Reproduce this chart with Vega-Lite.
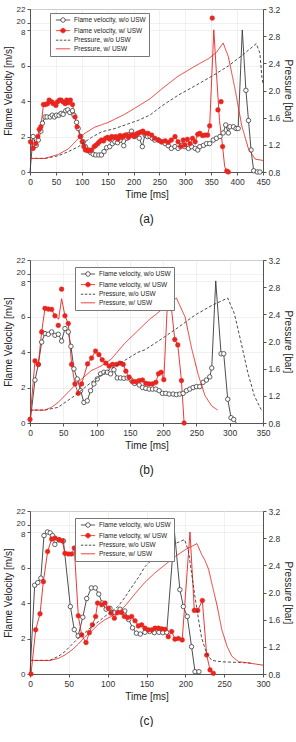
{
"$schema":"https://vega.github.io/schema/vega-lite/v6.json",
"background":"white",
"padding":{"left":2,"right":2,"top":4,"bottom":0},
"data":{"values":[
{"p":"a","s":"vo","t":0,"y":0,"k":"f"},{"p":"a","s":"vo","t":6,"y":2.0},{"p":"a","s":"vo","t":12,"y":1.5},{"p":"a","s":"vo","t":16,"y":1.8},{"p":"a","s":"vo","t":21,"y":2.3},{"p":"a","s":"vo","t":24,"y":2.75},{"p":"a","s":"vo","t":29,"y":3.1},{"p":"a","s":"vo","t":33,"y":3.1},{"p":"a","s":"vo","t":39,"y":3.1},{"p":"a","s":"vo","t":43,"y":3.2},{"p":"a","s":"vo","t":47,"y":3.1},{"p":"a","s":"vo","t":51,"y":3.2},{"p":"a","s":"vo","t":56,"y":3.2},{"p":"a","s":"vo","t":60,"y":3.3},{"p":"a","s":"vo","t":64,"y":3.25},{"p":"a","s":"vo","t":69,"y":3.45},{"p":"a","s":"vo","t":73,"y":3.5},{"p":"a","s":"vo","t":77,"y":3.35},{"p":"a","s":"vo","t":82,"y":3.45},{"p":"a","s":"vo","t":85,"y":3.2},{"p":"a","s":"vo","t":90,"y":2.8},{"p":"a","s":"vo","t":93,"y":2.45},{"p":"a","s":"vo","t":98,"y":2.0},{"p":"a","s":"vo","t":103,"y":1.7},{"p":"a","s":"vo","t":107,"y":1.43},{"p":"a","s":"vo","t":113,"y":1.24},{"p":"a","s":"vo","t":117,"y":1.1},{"p":"a","s":"vo","t":122,"y":1.0},{"p":"a","s":"vo","t":127,"y":0.96},{"p":"a","s":"vo","t":133,"y":0.96},{"p":"a","s":"vo","t":138,"y":0.96},{"p":"a","s":"vo","t":143,"y":1.15},{"p":"a","s":"vo","t":148,"y":1.37},{"p":"a","s":"vo","t":154,"y":1.43},{"p":"a","s":"vo","t":159,"y":1.6},{"p":"a","s":"vo","t":164,"y":1.7},{"p":"a","s":"vo","t":169,"y":1.65},{"p":"a","s":"vo","t":174,"y":1.8},{"p":"a","s":"vo","t":181,"y":1.48},{"p":"a","s":"vo","t":187,"y":1.9},{"p":"a","s":"vo","t":191,"y":2.1},{"p":"a","s":"vo","t":196,"y":2.3},{"p":"a","s":"vo","t":201,"y":2.0},{"p":"a","s":"vo","t":206,"y":2.1},{"p":"a","s":"vo","t":211,"y":1.9},{"p":"a","s":"vo","t":217,"y":1.43},{"p":"a","s":"vo","t":222,"y":2.1},{"p":"a","s":"vo","t":227,"y":2.0},{"p":"a","s":"vo","t":232,"y":2.0},{"p":"a","s":"vo","t":236,"y":1.9},{"p":"a","s":"vo","t":241,"y":1.8},{"p":"a","s":"vo","t":248,"y":1.8},{"p":"a","s":"vo","t":254,"y":1.7},{"p":"a","s":"vo","t":261,"y":1.6},{"p":"a","s":"vo","t":267,"y":1.48},{"p":"a","s":"vo","t":273,"y":1.33},{"p":"a","s":"vo","t":280,"y":1.43},{"p":"a","s":"vo","t":286,"y":1.33},{"p":"a","s":"vo","t":293,"y":1.5},{"p":"a","s":"vo","t":299,"y":1.43},{"p":"a","s":"vo","t":306,"y":1.33},{"p":"a","s":"vo","t":312,"y":1.43},{"p":"a","s":"vo","t":319,"y":1.33},{"p":"a","s":"vo","t":324,"y":1.24},{"p":"a","s":"vo","t":328,"y":1.43},{"p":"a","s":"vo","t":335,"y":1.5},{"p":"a","s":"vo","t":341,"y":1.6},{"p":"a","s":"vo","t":347,"y":1.6},{"p":"a","s":"vo","t":354,"y":1.8},{"p":"a","s":"vo","t":360,"y":1.9},{"p":"a","s":"vo","t":367,"y":2.0},{"p":"a","s":"vo","t":373,"y":2.2},{"p":"a","s":"vo","t":378,"y":2.65},{"p":"a","s":"vo","t":383,"y":2.2},{"p":"a","s":"vo","t":386,"y":2.55},{"p":"a","s":"vo","t":393,"y":2.55},{"p":"a","s":"vo","t":398,"y":2.45},{"p":"a","s":"vo","t":402,"y":2.45},{"p":"a","s":"vo","t":410,"y":8.1,"k":"f"},{"p":"a","s":"vo","t":417,"y":4.6},{"p":"a","s":"vo","t":422,"y":2.9},{"p":"a","s":"vo","t":427,"y":1.24},{"p":"a","s":"vo","t":432,"y":0.07},{"p":"a","s":"vo","t":439,"y":0},{"p":"a","s":"vo","t":444,"y":0},
{"p":"a","s":"vw","t":1,"y":1.7},{"p":"a","s":"vw","t":6,"y":1.33},{"p":"a","s":"vw","t":11,"y":1.6},{"p":"a","s":"vw","t":15,"y":2.0},{"p":"a","s":"vw","t":18,"y":2.4},{"p":"a","s":"vw","t":21,"y":2.55},{"p":"a","s":"vw","t":26,"y":3.8},{"p":"a","s":"vw","t":30,"y":3.8},{"p":"a","s":"vw","t":34,"y":3.85},{"p":"a","s":"vw","t":37,"y":4.05},{"p":"a","s":"vw","t":42,"y":3.95},{"p":"a","s":"vw","t":45,"y":3.85},{"p":"a","s":"vw","t":50,"y":3.75},{"p":"a","s":"vw","t":53,"y":3.95},{"p":"a","s":"vw","t":57,"y":4.05},{"p":"a","s":"vw","t":60,"y":4.05},{"p":"a","s":"vw","t":64,"y":3.95},{"p":"a","s":"vw","t":68,"y":3.85},{"p":"a","s":"vw","t":71,"y":4.05},{"p":"a","s":"vw","t":74,"y":3.9},{"p":"a","s":"vw","t":78,"y":4.05},{"p":"a","s":"vw","t":82,"y":3.8},{"p":"a","s":"vw","t":87,"y":3.1},{"p":"a","s":"vw","t":91,"y":2.55},{"p":"a","s":"vw","t":97,"y":2.0},{"p":"a","s":"vw","t":101,"y":1.7},{"p":"a","s":"vw","t":104,"y":1.43},{"p":"a","s":"vw","t":107,"y":1.24},{"p":"a","s":"vw","t":111,"y":1.2},{"p":"a","s":"vw","t":116,"y":1.2},{"p":"a","s":"vw","t":119,"y":1.24},{"p":"a","s":"vw","t":124,"y":1.43},{"p":"a","s":"vw","t":127,"y":1.5},{"p":"a","s":"vw","t":131,"y":1.6},{"p":"a","s":"vw","t":134,"y":1.7},{"p":"a","s":"vw","t":138,"y":1.8},{"p":"a","s":"vw","t":142,"y":1.75},{"p":"a","s":"vw","t":146,"y":1.9},{"p":"a","s":"vw","t":150,"y":1.95},{"p":"a","s":"vw","t":154,"y":1.85},{"p":"a","s":"vw","t":158,"y":2.0},{"p":"a","s":"vw","t":162,"y":1.95},{"p":"a","s":"vw","t":166,"y":2.0},{"p":"a","s":"vw","t":170,"y":1.85},{"p":"a","s":"vw","t":174,"y":2.05},{"p":"a","s":"vw","t":178,"y":1.95},{"p":"a","s":"vw","t":182,"y":2.05},{"p":"a","s":"vw","t":186,"y":2.1},{"p":"a","s":"vw","t":190,"y":1.95},{"p":"a","s":"vw","t":194,"y":2.05},{"p":"a","s":"vw","t":198,"y":2.1},{"p":"a","s":"vw","t":202,"y":2.0},{"p":"a","s":"vw","t":206,"y":2.15},{"p":"a","s":"vw","t":210,"y":2.2},{"p":"a","s":"vw","t":214,"y":2.25},{"p":"a","s":"vw","t":218,"y":2.3},{"p":"a","s":"vw","t":222,"y":2.18},{"p":"a","s":"vw","t":228,"y":2.18},{"p":"a","s":"vw","t":235,"y":2.08},{"p":"a","s":"vw","t":241,"y":1.9},{"p":"a","s":"vw","t":248,"y":1.8},{"p":"a","s":"vw","t":254,"y":1.7},{"p":"a","s":"vw","t":261,"y":1.75},{"p":"a","s":"vw","t":267,"y":1.67},{"p":"a","s":"vw","t":273,"y":1.8},{"p":"a","s":"vw","t":280,"y":1.99},{"p":"a","s":"vw","t":286,"y":1.7},{"p":"a","s":"vw","t":291,"y":1.43},{"p":"a","s":"vw","t":296,"y":1.8},{"p":"a","s":"vw","t":299,"y":1.52},{"p":"a","s":"vw","t":304,"y":1.84},{"p":"a","s":"vw","t":309,"y":1.6},{"p":"a","s":"vw","t":314,"y":1.9},{"p":"a","s":"vw","t":319,"y":1.7},{"p":"a","s":"vw","t":324,"y":2.12},{"p":"a","s":"vw","t":328,"y":2.18},{"p":"a","s":"vw","t":333,"y":2.05},{"p":"a","s":"vw","t":338,"y":2.08},{"p":"a","s":"vw","t":343,"y":2.08},{"p":"a","s":"vw","t":347,"y":2.6},{"p":"a","s":"vw","t":352,"y":20.7,"k":"o"},{"p":"a","s":"vw","t":355,"y":8.2,"k":"f"},{"p":"a","s":"vw","t":360,"y":5.6,"k":"f"},{"p":"a","s":"vw","t":363,"y":3.5,"k":"o"},{"p":"a","s":"vw","t":366,"y":2.9,"k":"f"},{"p":"a","s":"vw","t":369,"y":3.96,"k":"o"},{"p":"a","s":"vw","t":372,"y":1.43},{"p":"a","s":"vw","t":376,"y":0.3,"k":"f"},{"p":"a","s":"vw","t":380,"y":0.05},{"p":"a","s":"vw","t":383,"y":0},
{"p":"a","s":"po","t":0,"y":1.0},{"p":"a","s":"po","t":29,"y":1.0},{"p":"a","s":"po","t":55,"y":1.04},{"p":"a","s":"po","t":74,"y":1.1},{"p":"a","s":"po","t":93,"y":1.17},{"p":"a","s":"po","t":106,"y":1.24},{"p":"a","s":"po","t":119,"y":1.31},{"p":"a","s":"po","t":138,"y":1.39},{"p":"a","s":"po","t":164,"y":1.44},{"p":"a","s":"po","t":190,"y":1.51},{"p":"a","s":"po","t":209,"y":1.56},{"p":"a","s":"po","t":232,"y":1.64},{"p":"a","s":"po","t":254,"y":1.77},{"p":"a","s":"po","t":286,"y":1.93},{"p":"a","s":"po","t":319,"y":2.07},{"p":"a","s":"po","t":351,"y":2.21},{"p":"a","s":"po","t":383,"y":2.36},{"p":"a","s":"po","t":415,"y":2.55},{"p":"a","s":"po","t":437,"y":2.69},{"p":"a","s":"po","t":444,"y":2.55},{"p":"a","s":"po","t":448,"y":2.19},{"p":"a","s":"po","t":450,"y":2.1},
{"p":"a","s":"pw","t":0,"y":1.0},{"p":"a","s":"pw","t":29,"y":1.0},{"p":"a","s":"pw","t":55,"y":1.06},{"p":"a","s":"pw","t":74,"y":1.14},{"p":"a","s":"pw","t":93,"y":1.29},{"p":"a","s":"pw","t":106,"y":1.37},{"p":"a","s":"pw","t":125,"y":1.46},{"p":"a","s":"pw","t":151,"y":1.53},{"p":"a","s":"pw","t":183,"y":1.65},{"p":"a","s":"pw","t":209,"y":1.77},{"p":"a","s":"pw","t":232,"y":1.88},{"p":"a","s":"pw","t":254,"y":2.02},{"p":"a","s":"pw","t":286,"y":2.21},{"p":"a","s":"pw","t":319,"y":2.36},{"p":"a","s":"pw","t":345,"y":2.47},{"p":"a","s":"pw","t":360,"y":2.56},{"p":"a","s":"pw","t":373,"y":2.7},{"p":"a","s":"pw","t":383,"y":2.5},{"p":"a","s":"pw","t":396,"y":2.02},{"p":"a","s":"pw","t":409,"y":1.48},{"p":"a","s":"pw","t":422,"y":1.14},{"p":"a","s":"pw","t":435,"y":0.99},{"p":"a","s":"pw","t":450,"y":0.97},
{"p":"b","s":"vo","t":0,"y":0,"k":"f"},{"p":"b","s":"vo","t":7.5,"y":2.42},{"p":"b","s":"vo","t":12.5,"y":3.3},{"p":"b","s":"vo","t":17.5,"y":4.56},{"p":"b","s":"vo","t":22.5,"y":5.04},{"p":"b","s":"vo","t":27.5,"y":5.0},{"p":"b","s":"vo","t":32.5,"y":5.13},{"p":"b","s":"vo","t":37.5,"y":4.94},{"p":"b","s":"vo","t":42.5,"y":5.0},{"p":"b","s":"vo","t":47.5,"y":4.62},{"p":"b","s":"vo","t":52.5,"y":5.32},{"p":"b","s":"vo","t":57.5,"y":5.13},{"p":"b","s":"vo","t":61.5,"y":4.32},{"p":"b","s":"vo","t":66,"y":3.05},{"p":"b","s":"vo","t":71,"y":2.48},{"p":"b","s":"vo","t":76,"y":1.82},{"p":"b","s":"vo","t":81,"y":1.16},{"p":"b","s":"vo","t":86,"y":1.25},{"p":"b","s":"vo","t":91,"y":1.82},{"p":"b","s":"vo","t":96,"y":2.2},{"p":"b","s":"vo","t":101,"y":2.48},{"p":"b","s":"vo","t":106,"y":2.77},{"p":"b","s":"vo","t":111,"y":2.86},{"p":"b","s":"vo","t":116,"y":2.86},{"p":"b","s":"vo","t":121,"y":2.77},{"p":"b","s":"vo","t":126,"y":3.0},{"p":"b","s":"vo","t":131,"y":2.54},{"p":"b","s":"vo","t":136,"y":2.54},{"p":"b","s":"vo","t":141,"y":2.52},{"p":"b","s":"vo","t":146,"y":2.54},{"p":"b","s":"vo","t":152,"y":2.42},{"p":"b","s":"vo","t":157,"y":2.23},{"p":"b","s":"vo","t":164,"y":2.14},{"p":"b","s":"vo","t":169,"y":2.0},{"p":"b","s":"vo","t":174,"y":1.95},{"p":"b","s":"vo","t":179,"y":1.91},{"p":"b","s":"vo","t":184,"y":1.91},{"p":"b","s":"vo","t":189,"y":1.91},{"p":"b","s":"vo","t":194,"y":1.82},{"p":"b","s":"vo","t":199,"y":1.67},{"p":"b","s":"vo","t":204,"y":1.67},{"p":"b","s":"vo","t":209,"y":1.63},{"p":"b","s":"vo","t":215,"y":1.63},{"p":"b","s":"vo","t":220,"y":1.6},{"p":"b","s":"vo","t":225,"y":1.63},{"p":"b","s":"vo","t":230,"y":1.67},{"p":"b","s":"vo","t":235,"y":1.82},{"p":"b","s":"vo","t":240,"y":1.91},{"p":"b","s":"vo","t":245,"y":2.0},{"p":"b","s":"vo","t":250,"y":2.05},{"p":"b","s":"vo","t":255,"y":2.05},{"p":"b","s":"vo","t":260,"y":2.29},{"p":"b","s":"vo","t":265,"y":2.42},{"p":"b","s":"vo","t":270,"y":2.6},{"p":"b","s":"vo","t":273,"y":3.1},{"p":"b","s":"vo","t":279,"y":8.2,"k":"f"},{"p":"b","s":"vo","t":287,"y":3.9},{"p":"b","s":"vo","t":291,"y":3.9},{"p":"b","s":"vo","t":297,"y":1.34},{"p":"b","s":"vo","t":302,"y":0.3},{"p":"b","s":"vo","t":306,"y":0.2},{"p":"b","s":"vo","t":310,"y":0,"k":"f"},
{"p":"b","s":"vw","t":0,"y":0.2},{"p":"b","s":"vw","t":7.5,"y":3.5},{"p":"b","s":"vw","t":12.5,"y":3.3},{"p":"b","s":"vw","t":17.5,"y":5.13},{"p":"b","s":"vw","t":22.5,"y":6.46},{"p":"b","s":"vw","t":27.5,"y":6.42},{"p":"b","s":"vw","t":32.5,"y":6.4},{"p":"b","s":"vw","t":37.5,"y":6.04},{"p":"b","s":"vw","t":42.5,"y":5.5,"k":"o"},{"p":"b","s":"vw","t":43,"y":5.85,"k":"f"},{"p":"b","s":"vw","t":47.5,"y":7.54,"k":"o"},{"p":"b","s":"vw","t":47.5,"y":7.0,"k":"f"},{"p":"b","s":"vw","t":52.5,"y":6.04},{"p":"b","s":"vw","t":57.5,"y":5.6},{"p":"b","s":"vw","t":62.5,"y":3.3},{"p":"b","s":"vw","t":67.5,"y":2.2},{"p":"b","s":"vw","t":72.5,"y":1.67},{"p":"b","s":"vw","t":77.5,"y":2.2},{"p":"b","s":"vw","t":86.5,"y":3.33},{"p":"b","s":"vw","t":92.5,"y":3.66},{"p":"b","s":"vw","t":98.5,"y":4.05},{"p":"b","s":"vw","t":103.5,"y":3.85},{"p":"b","s":"vw","t":108.5,"y":3.56},{"p":"b","s":"vw","t":114,"y":3.37},{"p":"b","s":"vw","t":119,"y":3.2},{"p":"b","s":"vw","t":124,"y":3.3},{"p":"b","s":"vw","t":130,"y":3.3},{"p":"b","s":"vw","t":135,"y":3.37},{"p":"b","s":"vw","t":140,"y":3.3},{"p":"b","s":"vw","t":144,"y":2.92},{"p":"b","s":"vw","t":149,"y":2.58},{"p":"b","s":"vw","t":154,"y":2.33},{"p":"b","s":"vw","t":159,"y":2.33},{"p":"b","s":"vw","t":164,"y":2.39},{"p":"b","s":"vw","t":169,"y":2.42},{"p":"b","s":"vw","t":174,"y":2.23},{"p":"b","s":"vw","t":179,"y":2.2},{"p":"b","s":"vw","t":184,"y":2.2},{"p":"b","s":"vw","t":189,"y":2.29},{"p":"b","s":"vw","t":193,"y":2.77},{"p":"b","s":"vw","t":197,"y":2.86},{"p":"b","s":"vw","t":201,"y":2.44},{"p":"b","s":"vw","t":208,"y":8.07,"k":"f"},{"p":"b","s":"vw","t":217.5,"y":4.7},{"p":"b","s":"vw","t":222,"y":4.4},{"p":"b","s":"vw","t":227.5,"y":2.39},{"p":"b","s":"vw","t":231.5,"y":0},
{"p":"b","s":"po","t":0,"y":0.99},{"p":"b","s":"po","t":22,"y":0.99},{"p":"b","s":"po","t":42,"y":1.03},{"p":"b","s":"po","t":67,"y":1.2},{"p":"b","s":"po","t":92,"y":1.4},{"p":"b","s":"po","t":117,"y":1.57},{"p":"b","s":"po","t":142,"y":1.72},{"p":"b","s":"po","t":162,"y":1.84},{"p":"b","s":"po","t":173,"y":1.88},{"p":"b","s":"po","t":198,"y":2.04},{"p":"b","s":"po","t":223,"y":2.21},{"p":"b","s":"po","t":248,"y":2.39},{"p":"b","s":"po","t":273,"y":2.53},{"p":"b","s":"po","t":297,"y":2.64},{"p":"b","s":"po","t":307,"y":2.41},{"p":"b","s":"po","t":317,"y":1.99},{"p":"b","s":"po","t":327,"y":1.55},{"p":"b","s":"po","t":337,"y":1.2},{"p":"b","s":"po","t":347,"y":1.0},{"p":"b","s":"po","t":350,"y":0.98},
{"p":"b","s":"pw","t":0,"y":0.99},{"p":"b","s":"pw","t":22,"y":0.99},{"p":"b","s":"pw","t":32,"y":1.03},{"p":"b","s":"pw","t":42,"y":1.1},{"p":"b","s":"pw","t":57,"y":1.25},{"p":"b","s":"pw","t":72,"y":1.4},{"p":"b","s":"pw","t":92,"y":1.57},{"p":"b","s":"pw","t":107,"y":1.64},{"p":"b","s":"pw","t":122,"y":1.74},{"p":"b","s":"pw","t":142,"y":1.97},{"p":"b","s":"pw","t":162,"y":2.16},{"p":"b","s":"pw","t":180,"y":2.33},{"p":"b","s":"pw","t":188,"y":2.39},{"p":"b","s":"pw","t":203,"y":2.51},{"p":"b","s":"pw","t":220,"y":2.64},{"p":"b","s":"pw","t":225,"y":2.53},{"p":"b","s":"pw","t":233,"y":2.36},{"p":"b","s":"pw","t":243,"y":1.89},{"p":"b","s":"pw","t":253,"y":1.5},{"p":"b","s":"pw","t":263,"y":1.2},{"p":"b","s":"pw","t":273,"y":1.05},{"p":"b","s":"pw","t":282,"y":0.99},
{"p":"c","s":"vo","t":0,"y":0,"k":"f"},{"p":"c","s":"vo","t":6,"y":5.0},{"p":"c","s":"vo","t":10,"y":5.15},{"p":"c","s":"vo","t":14,"y":5.4},{"p":"c","s":"vo","t":18,"y":7.8},{"p":"c","s":"vo","t":22.5,"y":8.15},{"p":"c","s":"vo","t":26,"y":7.95},{"p":"c","s":"vo","t":29,"y":7.8},{"p":"c","s":"vo","t":32,"y":7.3},{"p":"c","s":"vo","t":37.5,"y":7.55},{"p":"c","s":"vo","t":43,"y":7.5},{"p":"c","s":"vo","t":52,"y":3.8},{"p":"c","s":"vo","t":57,"y":2.5},{"p":"c","s":"vo","t":62,"y":2.15},{"p":"c","s":"vo","t":68,"y":3.2},{"p":"c","s":"vo","t":73,"y":4.25},{"p":"c","s":"vo","t":79,"y":4.85},{"p":"c","s":"vo","t":84,"y":4.85},{"p":"c","s":"vo","t":88.5,"y":4.5},{"p":"c","s":"vo","t":93,"y":4.0},{"p":"c","s":"vo","t":98,"y":3.65},{"p":"c","s":"vo","t":103,"y":3.7},{"p":"c","s":"vo","t":109,"y":3.45},{"p":"c","s":"vo","t":116,"y":3.65},{"p":"c","s":"vo","t":122,"y":3.55},{"p":"c","s":"vo","t":127,"y":3.07},{"p":"c","s":"vo","t":132,"y":2.6},{"p":"c","s":"vo","t":137,"y":2.3},{"p":"c","s":"vo","t":142,"y":2.25},{"p":"c","s":"vo","t":148,"y":2.35},{"p":"c","s":"vo","t":154,"y":2.4},{"p":"c","s":"vo","t":160,"y":2.33},{"p":"c","s":"vo","t":166,"y":2.35},{"p":"c","s":"vo","t":171,"y":2.33},{"p":"c","s":"vo","t":176,"y":2.35},{"p":"c","s":"vo","t":186,"y":8.1,"k":"f"},{"p":"c","s":"vo","t":193,"y":4.75},{"p":"c","s":"vo","t":197.5,"y":3.8},{"p":"c","s":"vo","t":202.5,"y":3.24},{"p":"c","s":"vo","t":208,"y":1.54},{"p":"c","s":"vo","t":212.5,"y":0.13},{"p":"c","s":"vo","t":217.5,"y":0.13},
{"p":"c","s":"vw","t":1.3,"y":0},{"p":"c","s":"vw","t":7.3,"y":2.49},{"p":"c","s":"vw","t":12.9,"y":3.39},{"p":"c","s":"vw","t":17.2,"y":5.2},{"p":"c","s":"vw","t":22.7,"y":6.9},{"p":"c","s":"vw","t":27.9,"y":7.6},{"p":"c","s":"vw","t":32.2,"y":7.66},{"p":"c","s":"vw","t":37.3,"y":7.57},{"p":"c","s":"vw","t":41.6,"y":7.5},{"p":"c","s":"vw","t":45,"y":6.8},{"p":"c","s":"vw","t":49.4,"y":6.76},{"p":"c","s":"vw","t":53.6,"y":6.76},{"p":"c","s":"vw","t":57,"y":7.1},{"p":"c","s":"vw","t":62.2,"y":3.28},{"p":"c","s":"vw","t":66.5,"y":2.2},{"p":"c","s":"vw","t":72.1,"y":1.77},{"p":"c","s":"vw","t":76.4,"y":2.33},{"p":"c","s":"vw","t":80.3,"y":2.77},{"p":"c","s":"vw","t":84.5,"y":3.24},{"p":"c","s":"vw","t":87,"y":4.0},{"p":"c","s":"vw","t":92.3,"y":3.9},{"p":"c","s":"vw","t":96.6,"y":4.0},{"p":"c","s":"vw","t":100.9,"y":3.7},{"p":"c","s":"vw","t":104.3,"y":3.43},{"p":"c","s":"vw","t":108.6,"y":3.14},{"p":"c","s":"vw","t":112.9,"y":3.46},{"p":"c","s":"vw","t":118,"y":3.46},{"p":"c","s":"vw","t":121.5,"y":3.24},{"p":"c","s":"vw","t":125.8,"y":3.18},{"p":"c","s":"vw","t":130.9,"y":3.24},{"p":"c","s":"vw","t":135.2,"y":3.0},{"p":"c","s":"vw","t":139.5,"y":2.71},{"p":"c","s":"vw","t":143.8,"y":2.77},{"p":"c","s":"vw","t":148,"y":2.58},{"p":"c","s":"vw","t":152.4,"y":2.49},{"p":"c","s":"vw","t":157,"y":2.49},{"p":"c","s":"vw","t":161,"y":2.58},{"p":"c","s":"vw","t":165.2,"y":2.58},{"p":"c","s":"vw","t":169.5,"y":2.54},{"p":"c","s":"vw","t":173.8,"y":2.52},{"p":"c","s":"vw","t":178,"y":2.1},{"p":"c","s":"vw","t":182.4,"y":2.39},{"p":"c","s":"vw","t":186.7,"y":1.96},{"p":"c","s":"vw","t":191,"y":2.0},{"p":"c","s":"vw","t":196,"y":1.92},{"p":"c","s":"vw","t":206,"y":8.04,"k":"f"},{"p":"c","s":"vw","t":211.6,"y":3.58},{"p":"c","s":"vw","t":215.9,"y":3.58},{"p":"c","s":"vw","t":221.9,"y":4.14},{"p":"c","s":"vw","t":227.5,"y":1.07},{"p":"c","s":"vw","t":231.8,"y":0.23},{"p":"c","s":"vw","t":236,"y":0.04},
{"p":"c","s":"po","t":0,"y":1.0},{"p":"c","s":"po","t":25,"y":1.0},{"p":"c","s":"po","t":36.5,"y":1.06},{"p":"c","s":"po","t":45,"y":1.13},{"p":"c","s":"po","t":53.6,"y":1.23},{"p":"c","s":"po","t":62.2,"y":1.33},{"p":"c","s":"po","t":70.8,"y":1.41},{"p":"c","s":"po","t":79.4,"y":1.5},{"p":"c","s":"po","t":88,"y":1.57},{"p":"c","s":"po","t":96.6,"y":1.65},{"p":"c","s":"po","t":105,"y":1.72},{"p":"c","s":"po","t":113.7,"y":1.8},{"p":"c","s":"po","t":122.3,"y":1.93},{"p":"c","s":"po","t":131,"y":2.08},{"p":"c","s":"po","t":139.5,"y":2.22},{"p":"c","s":"po","t":148,"y":2.38},{"p":"c","s":"po","t":161,"y":2.53},{"p":"c","s":"po","t":174,"y":2.63},{"p":"c","s":"po","t":187,"y":2.72},{"p":"c","s":"po","t":199,"y":2.78},{"p":"c","s":"po","t":204,"y":2.61},{"p":"c","s":"po","t":208,"y":2.29},{"p":"c","s":"po","t":212.4,"y":1.94},{"p":"c","s":"po","t":217,"y":1.6},{"p":"c","s":"po","t":221,"y":1.33},{"p":"c","s":"po","t":227.5,"y":1.1},{"p":"c","s":"po","t":234,"y":1.0},{"p":"c","s":"po","t":247,"y":0.98},{"p":"c","s":"po","t":268.6,"y":0.97},{"p":"c","s":"po","t":285,"y":0.96},
{"p":"c","s":"pw","t":0,"y":1.0},{"p":"c","s":"pw","t":26,"y":1.0},{"p":"c","s":"pw","t":36.5,"y":1.03},{"p":"c","s":"pw","t":45,"y":1.08},{"p":"c","s":"pw","t":53.6,"y":1.15},{"p":"c","s":"pw","t":62.2,"y":1.24},{"p":"c","s":"pw","t":70.8,"y":1.35},{"p":"c","s":"pw","t":79.4,"y":1.43},{"p":"c","s":"pw","t":88,"y":1.53},{"p":"c","s":"pw","t":96.6,"y":1.6},{"p":"c","s":"pw","t":105,"y":1.65},{"p":"c","s":"pw","t":113.7,"y":1.71},{"p":"c","s":"pw","t":122.3,"y":1.8},{"p":"c","s":"pw","t":130.9,"y":1.92},{"p":"c","s":"pw","t":139.5,"y":2.04},{"p":"c","s":"pw","t":148,"y":2.15},{"p":"c","s":"pw","t":161,"y":2.29},{"p":"c","s":"pw","t":174,"y":2.41},{"p":"c","s":"pw","t":187,"y":2.53},{"p":"c","s":"pw","t":200,"y":2.63},{"p":"c","s":"pw","t":215,"y":2.72},{"p":"c","s":"pw","t":221,"y":2.56},{"p":"c","s":"pw","t":225,"y":2.48},{"p":"c","s":"pw","t":230,"y":2.34},{"p":"c","s":"pw","t":234,"y":2.14},{"p":"c","s":"pw","t":241,"y":1.8},{"p":"c","s":"pw","t":247,"y":1.45},{"p":"c","s":"pw","t":254,"y":1.2},{"p":"c","s":"pw","t":260,"y":1.06},{"p":"c","s":"pw","t":268.6,"y":0.98},{"p":"c","s":"pw","t":277,"y":0.97},{"p":"c","s":"pw","t":300,"y":0.93}
]},
"spacing":30,
"resolve":{"scale":{"x":"independent","y":"independent","color":"independent","strokeDash":"independent"}},
"vconcat":[
{"width":233,"height":163,
 "title":{"text":"(a)","orient":"bottom","offset":14},
 "encoding":{"x":{"field":"t","type":"quantitative","title":"Time [ms]","scale":{"domain":[0,450],"nice":false},"axis":{"values":[0,50,100,150,200,250,300,350,400,450],"grid":true}}},
 "layer":[
  {"encoding":{"y":{"field":"y","type":"quantitative","title":"Flame Velocity [m/s]","scale":{"domain":[0,8,20,22],"range":[163,21,14,0],"nice":false,"zero":false},"axis":{"values":[0,2,4,6,8,20,22],"grid":true,"labelOverlap":false,"labelFontSize":8,"labelOffset":{"expr":"datum.value==20 ? -2 : datum.value==8 ? 2 : 0"}}}},
   "layer":[
    {"transform":[{"filter":"datum.p=='a' && (datum.s=='vo'||datum.s=='vw') && datum.k!='o'"}],
     "mark":{"type":"line","strokeWidth":0.9},
     "encoding":{"color":{"field":"s","type":"nominal","scale":{"domain":["vo","vw","po","pw"],"range":["#3a3a3a","#e8251f","#3a3a3a","#e8251f"]},
       "legend":{"orient":"none","legendX":20,"legendY":4,"title":null,"labelExpr":"datum.value=='vo'?'Flame velocity, w/o USW':datum.value=='vw'?'Flame velocity, w/ USW':datum.value=='po'?'Pressure, w/o USW':'Pressure, w/ USW'","labelFontSize":6.5,"labelColor":"#222","symbolSize":42,"symbolStrokeWidth":0.9,"rowPadding":0.6,"padding":3,"strokeColor":"#777","fillColor":"white","symbolOffset":6,"labelOffset":7,
        "encode":{"symbols":{"update":{"shape":{"signal":"datum.value=='vo'?'M-2.2,0L-0.7,0M0.7,0L2.2,0M0.7,0A0.7,0.7,0,1,1,-0.7,0A0.7,0.7,0,1,1,0.7,0':datum.value=='vw'?'M-2.2,0L2.2,0M0.7,0A0.7,0.7,0,1,1,-0.7,0A0.7,0.7,0,1,1,0.7,0':'M-2.2,0L2.2,0'"},"fill":{"signal":"datum.value=='vo'?'white':datum.value=='vw'?'#e8251f':'transparent'"},"stroke":{"signal":"(datum.value=='vo'||datum.value=='po')?'#3a3a3a':'#e8251f'"},"strokeDash":{"signal":"datum.value=='po'?[2.5,1.5]:[1,0]"},"opacity":{"value":1},"fillOpacity":{"value":1}}}}}}}},
    {"transform":[{"filter":"datum.p=='a' && datum.s=='vo' && datum.k!='f'"}],
     "mark":{"type":"point","shape":"circle","size":20,"filled":true,"fill":"white","stroke":"#3a3a3a","strokeWidth":0.8,"opacity":1}},
    {"transform":[{"filter":"datum.p=='a' && datum.s=='vw' && datum.k!='f'"}],
     "mark":{"type":"point","shape":"circle","size":22,"filled":true,"fill":"#e8251f","stroke":"#e8251f","strokeWidth":0.5,"opacity":1}},
    {"data":{"values":[{"b":1}]},"mark":{"type":"text","text":"//","fontSize":7,"fontWeight":"bold","color":"#333","dx":2},
     "encoding":{"x":{"datum":0,"type":"quantitative"},"y":{"datum":15,"type":"quantitative","title":"Flame Velocity [m/s]"}}}
   ]},
  {"transform":[{"filter":"datum.p=='a' && (datum.s=='po'||datum.s=='pw')"}],
   "mark":{"type":"line","strokeWidth":0.9},
   "encoding":{"y":{"field":"y","type":"quantitative","title":"Pressure [bar]","scale":{"domain":[0.8,3.2],"nice":false,"zero":false},"axis":{"orient":"right","values":[0.8,1.2,1.6,2.0,2.4,2.8,3.2],"format":".1f","grid":false}},
    "color":{"field":"s","type":"nominal","legend":null},
    "strokeDash":{"field":"s","type":"nominal","scale":{"domain":["po","pw"],"range":[[3,2],[1,0]]},"legend":null}}}
 ],
 "resolve":{"scale":{"y":"independent"}}
},
{"width":233,"height":163,
 "title":{"text":"(b)","orient":"bottom","offset":14},
 "encoding":{"x":{"field":"t","type":"quantitative","title":"Time [ms]","scale":{"domain":[0,350],"nice":false},"axis":{"values":[0,50,100,150,200,250,300,350],"grid":true}}},
 "layer":[
  {"encoding":{"y":{"field":"y","type":"quantitative","title":"Flame Velocity [m/s]","scale":{"domain":[0,8,20,22],"range":[163,21,14,0],"nice":false,"zero":false},"axis":{"values":[0,2,4,6,8,20,22],"grid":true,"labelOverlap":false,"labelFontSize":8,"labelOffset":{"expr":"datum.value==20 ? -2 : datum.value==8 ? 2 : 0"}}}},
   "layer":[
    {"transform":[{"filter":"datum.p=='b' && (datum.s=='vo'||datum.s=='vw') && datum.k!='o'"}],
     "mark":{"type":"line","strokeWidth":0.9},
     "encoding":{"color":{"field":"s","type":"nominal","scale":{"domain":["vo","vw","po","pw"],"range":["#3a3a3a","#e8251f","#3a3a3a","#e8251f"]},
       "legend":{"orient":"none","legendX":45,"legendY":7,"title":null,"labelExpr":"datum.value=='vo'?'Flame velocity, w/o USW':datum.value=='vw'?'Flame velocity, w/ USW':datum.value=='po'?'Pressure, w/o USW':'Pressure, w/ USW'","labelFontSize":6.5,"labelColor":"#222","symbolSize":42,"symbolStrokeWidth":0.9,"rowPadding":0.6,"padding":3,"strokeColor":"#777","fillColor":"white","symbolOffset":6,"labelOffset":7,
        "encode":{"symbols":{"update":{"shape":{"signal":"datum.value=='vo'?'M-2.2,0L-0.7,0M0.7,0L2.2,0M0.7,0A0.7,0.7,0,1,1,-0.7,0A0.7,0.7,0,1,1,0.7,0':datum.value=='vw'?'M-2.2,0L2.2,0M0.7,0A0.7,0.7,0,1,1,-0.7,0A0.7,0.7,0,1,1,0.7,0':'M-2.2,0L2.2,0'"},"fill":{"signal":"datum.value=='vo'?'white':datum.value=='vw'?'#e8251f':'transparent'"},"stroke":{"signal":"(datum.value=='vo'||datum.value=='po')?'#3a3a3a':'#e8251f'"},"strokeDash":{"signal":"datum.value=='po'?[2.5,1.5]:[1,0]"},"opacity":{"value":1},"fillOpacity":{"value":1}}}}}}}},
    {"transform":[{"filter":"datum.p=='b' && datum.s=='vo' && datum.k!='f'"}],
     "mark":{"type":"point","shape":"circle","size":20,"filled":true,"fill":"white","stroke":"#3a3a3a","strokeWidth":0.8,"opacity":1}},
    {"transform":[{"filter":"datum.p=='b' && datum.s=='vw' && datum.k!='f'"}],
     "mark":{"type":"point","shape":"circle","size":22,"filled":true,"fill":"#e8251f","stroke":"#e8251f","strokeWidth":0.5,"opacity":1}},
    {"data":{"values":[{"b":1}]},"mark":{"type":"text","text":"//","fontSize":7,"fontWeight":"bold","color":"#333","dx":2},
     "encoding":{"x":{"datum":0,"type":"quantitative"},"y":{"datum":15,"type":"quantitative","title":"Flame Velocity [m/s]"}}}
   ]},
  {"transform":[{"filter":"datum.p=='b' && (datum.s=='po'||datum.s=='pw')"}],
   "mark":{"type":"line","strokeWidth":0.9},
   "encoding":{"y":{"field":"y","type":"quantitative","title":"Pressure [bar]","scale":{"domain":[0.8,3.2],"nice":false,"zero":false},"axis":{"orient":"right","values":[0.8,1.2,1.6,2.0,2.4,2.8,3.2],"format":".1f","grid":false}},
    "color":{"field":"s","type":"nominal","legend":null},
    "strokeDash":{"field":"s","type":"nominal","scale":{"domain":["po","pw"],"range":[[3,2],[1,0]]},"legend":null}}}
 ],
 "resolve":{"scale":{"y":"independent"}}
},
{"width":233,"height":163,
 "title":{"text":"(c)","orient":"bottom","offset":14},
 "encoding":{"x":{"field":"t","type":"quantitative","title":"Time [ms]","scale":{"domain":[0,300],"nice":false},"axis":{"values":[0,50,100,150,200,250,300],"grid":true}}},
 "layer":[
  {"encoding":{"y":{"field":"y","type":"quantitative","title":"Flame Velocity [m/s]","scale":{"domain":[0,8,20,22],"range":[163,21,14,0],"nice":false,"zero":false},"axis":{"values":[0,2,4,6,8,20,22],"grid":true,"labelOverlap":false,"labelFontSize":8,"labelOffset":{"expr":"datum.value==20 ? -2 : datum.value==8 ? 2 : 0"}}}},
   "layer":[
    {"transform":[{"filter":"datum.p=='c' && (datum.s=='vo'||datum.s=='vw') && datum.k!='o'"}],
     "mark":{"type":"line","strokeWidth":0.9},
     "encoding":{"color":{"field":"s","type":"nominal","scale":{"domain":["vo","vw","po","pw"],"range":["#3a3a3a","#e8251f","#3a3a3a","#e8251f"]},
       "legend":{"orient":"none","legendX":45,"legendY":7,"title":null,"labelExpr":"datum.value=='vo'?'Flame velocity, w/o USW':datum.value=='vw'?'Flame velocity, w/ USW':datum.value=='po'?'Pressure, w/o USW':'Pressure, w/ USW'","labelFontSize":6.5,"labelColor":"#222","symbolSize":42,"symbolStrokeWidth":0.9,"rowPadding":0.6,"padding":3,"strokeColor":"#777","fillColor":"white","symbolOffset":6,"labelOffset":7,
        "encode":{"symbols":{"update":{"shape":{"signal":"datum.value=='vo'?'M-2.2,0L-0.7,0M0.7,0L2.2,0M0.7,0A0.7,0.7,0,1,1,-0.7,0A0.7,0.7,0,1,1,0.7,0':datum.value=='vw'?'M-2.2,0L2.2,0M0.7,0A0.7,0.7,0,1,1,-0.7,0A0.7,0.7,0,1,1,0.7,0':'M-2.2,0L2.2,0'"},"fill":{"signal":"datum.value=='vo'?'white':datum.value=='vw'?'#e8251f':'transparent'"},"stroke":{"signal":"(datum.value=='vo'||datum.value=='po')?'#3a3a3a':'#e8251f'"},"strokeDash":{"signal":"datum.value=='po'?[2.5,1.5]:[1,0]"},"opacity":{"value":1},"fillOpacity":{"value":1}}}}}}}},
    {"transform":[{"filter":"datum.p=='c' && datum.s=='vo' && datum.k!='f'"}],
     "mark":{"type":"point","shape":"circle","size":20,"filled":true,"fill":"white","stroke":"#3a3a3a","strokeWidth":0.8,"opacity":1}},
    {"transform":[{"filter":"datum.p=='c' && datum.s=='vw' && datum.k!='f'"}],
     "mark":{"type":"point","shape":"circle","size":22,"filled":true,"fill":"#e8251f","stroke":"#e8251f","strokeWidth":0.5,"opacity":1}},
    {"data":{"values":[{"b":1}]},"mark":{"type":"text","text":"//","fontSize":7,"fontWeight":"bold","color":"#333","dx":2},
     "encoding":{"x":{"datum":0,"type":"quantitative"},"y":{"datum":15,"type":"quantitative","title":"Flame Velocity [m/s]"}}}
   ]},
  {"transform":[{"filter":"datum.p=='c' && (datum.s=='po'||datum.s=='pw')"}],
   "mark":{"type":"line","strokeWidth":0.9},
   "encoding":{"y":{"field":"y","type":"quantitative","title":"Pressure [bar]","scale":{"domain":[0.8,3.2],"nice":false,"zero":false},"axis":{"orient":"right","values":[0.8,1.2,1.6,2.0,2.4,2.8,3.2],"format":".1f","grid":false}},
    "color":{"field":"s","type":"nominal","legend":null},
    "strokeDash":{"field":"s","type":"nominal","scale":{"domain":["po","pw"],"range":[[3,2],[1,0]]},"legend":null}}}
 ],
 "resolve":{"scale":{"y":"independent"}}
}
],
"config":{
 "font":"Liberation Sans",
 "view":{"stroke":"#555","strokeWidth":1},
 "axis":{"labelFontSize":8.5,"labelColor":"#333","titleFontSize":10,"titleFontWeight":"normal","titleColor":"#222","domainColor":"#555","tickColor":"#555","tickSize":3,"labelPadding":2,"titlePadding":3,"gridColor":"#ececec","gridWidth":0.8},
 "axisX":{"labelFlush":false,"titlePadding":4},
 "title":{"fontSize":12,"fontWeight":"normal","color":"#222"}
}
}
